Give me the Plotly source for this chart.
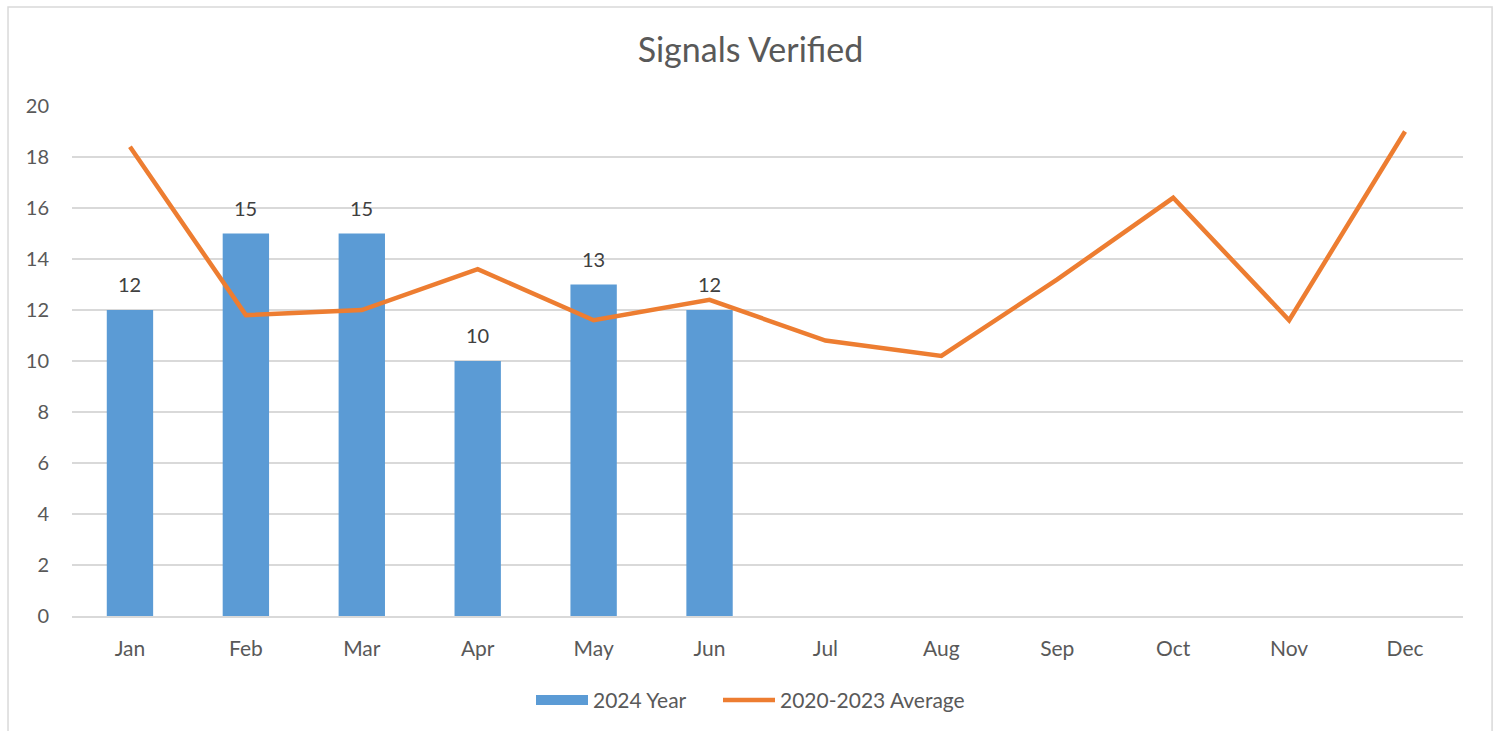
import plotly.graph_objects as go

months = ["Jan", "Feb", "Mar", "Apr", "May", "Jun", "Jul", "Aug", "Sep", "Oct", "Nov", "Dec"]
year_2024 = [12, 15, 15, 10, 13, 12]
avg_2020_2023 = [18.4, 11.8, 12.0, 13.6, 11.6, 12.4, 10.8, 10.2, 13.2, 16.4, 11.6, 19.0]
y_ticks = [0, 2, 4, 6, 8, 10, 12, 14, 16, 18, 20]

FONT = "Lato"
TXT = "#595959"

fig = go.Figure()
fig.add_trace(go.Bar(
    x=months[:len(year_2024)], y=year_2024, name="2024 Year",
    marker=dict(color="#5B9BD5", line=dict(width=0)),
    showlegend=False,
))
fig.add_trace(go.Scatter(
    x=months, y=avg_2020_2023, name="2020-2023 Average", mode="lines",
    line=dict(color="#ED7D31", width=4.5), showlegend=False,
))
# legend entries
fig.add_trace(go.Scatter(
    x=[None], y=[None], name="2024 Year", mode="lines",
    line=dict(color="#5B9BD5", width=14), showlegend=True, legend="legend",
))
fig.add_trace(go.Scatter(
    x=[None], y=[None], name="2020-2023 Average", mode="lines",
    line=dict(color="#ED7D31", width=4.5), showlegend=True, legend="legend2",
))

# data labels above bars
for m, v in zip(months, year_2024):
    fig.add_annotation(x=m, y=v, text=str(v), showarrow=False, yshift=26,
                       yanchor="middle", font=dict(family=FONT, size=20, color="#404040"))

leg_common = dict(orientation="h", xanchor="left", y=-0.125, yanchor="top",
                  font=dict(family=FONT, size=21, color=TXT), itemwidth=52,
                  bgcolor="rgba(0,0,0,0)")

fig.update_layout(
    width=1501, height=731,
    paper_bgcolor="white", plot_bgcolor="white",
    margin=dict(l=72, r=38, t=106, b=115, autoexpand=False),
    title=dict(text="Signals Verified", x=0.5, xanchor="center", y=0.931, yanchor="middle",
               font=dict(family=FONT, size=34, color=TXT)),
    font=dict(family=FONT, size=21, color=TXT),
    bargap=0.6,
    showlegend=True,
    legend=dict(x=(531 - 72) / 1391, **leg_common),
    legend2=dict(x=(718 - 72) / 1391, **leg_common),
    xaxis=dict(categoryorder="array", categoryarray=months, range=[-0.5, 11.5],
               showgrid=False, showline=True, linecolor="#D9D9D9", linewidth=1.5,
               ticks="", tickfont=dict(size=21, color=TXT), ticklabelstandoff=13),
    yaxis=dict(range=[0, 20], tickvals=y_ticks, showgrid=True, gridcolor="#D9D9D9",
               gridwidth=1.5, zeroline=False, showline=False, ticks="",
               tickfont=dict(size=20, color=TXT), ticklabelstandoff=22),
    shapes=[dict(type="rect", xref="paper", yref="paper", x0=-0.046, x1=1.0209,
                 y0=-0.25, y1=1.194, line=dict(color="#D9D9D9", width=1.5),
                 fillcolor="rgba(0,0,0,0)", layer="below")],
)

fig.write_html("out.html", config={"displayModeBar": False},
               post_script="document.body.style.margin='0';")
